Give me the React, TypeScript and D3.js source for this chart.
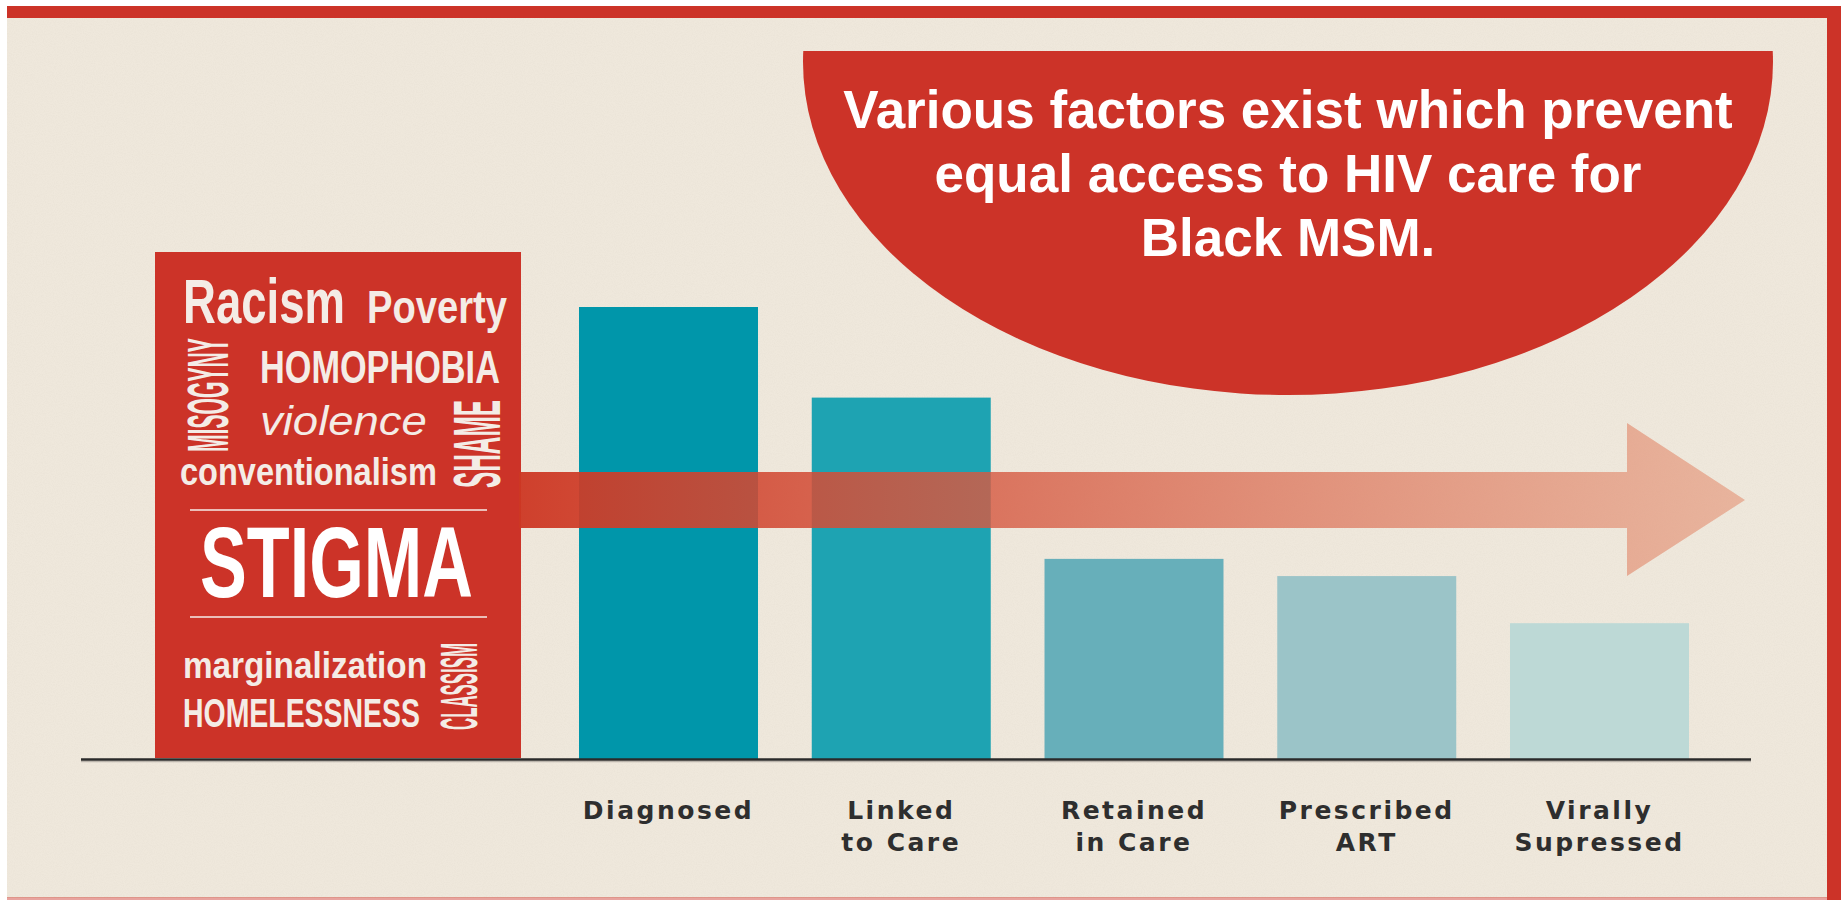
import React, { useLayoutEffect, useRef, useState } from "react";
import * as d3 from "d3";

// ---- data ----
const categories = ["Diagnosed", "Linked to Care", "Retained in Care", "Prescribed ART", "Virally Supressed"];
const categoryLines = [["Diagnosed"], ["Linked", "to Care"], ["Retained", "in Care"], ["Prescribed", "ART"], ["Virally", "Supressed"]];
const values = [100, 80, 44.4, 40.6, 30.2];
const barColors = ["#0096aa", "#1ea3b2", "#67afba", "#9bc4c8", "#bdd9d6"];
const titleLines = ["Various factors exist which prevent", "equal access to HIV care for", "Black MSM."];
const barrierWords = [
  "Racism", "Poverty", "MISOGYNY", "HOMOPHOBIA", "violence", "conventionalism", "SHAME",
  "STIGMA", "marginalization", "HOMELESSNESS", "CLASSISM",
];

// ---- layout (decorative) ----
const W = 1841, H = 900;
const RED = "#cc3328";
const WORD_FILL = "#f4ece6";
const wordLayout: Record<string, any> = {
  Racism: { x: 183, y: 323, size: 63, len: 162, weight: 700 },
  Poverty: { x: 367, y: 323, size: 46, len: 140, weight: 700 },
  MISOGYNY: { x: 228, y: 452, size: 57, len: 114, weight: 700, rot: true },
  HOMOPHOBIA: { x: 260, y: 383, size: 46, len: 240, weight: 700 },
  violence: { x: 260, y: 435, size: 40, len: 167, weight: 400, italic: true },
  conventionalism: { x: 180, y: 485, size: 39, len: 257, weight: 700 },
  SHAME: { x: 500, y: 488, size: 66, len: 88, weight: 700, rot: true },
  STIGMA: { x: 200, y: 597, size: 100, len: 273, weight: 700, fill: "#ffffff" },
  marginalization: { x: 183, y: 678, size: 36, len: 244, weight: 700 },
  HOMELESSNESS: { x: 183, y: 727, size: 40, len: 237, weight: 700 },
  CLASSISM: { x: 477, y: 730, size: 52, len: 87, weight: 700, rot: true },
};

export default function App() {
  const baseY = 760;
  const x = d3.scaleBand<string>().domain(categories).range([579, 1689]).paddingInner(0.231).paddingOuter(0);
  const y = d3.scaleLinear().domain([0, 100]).range([baseY, 307]);

  const wordRefs = useRef<Record<string, SVGTextElement | null>>({});
  const [scales, setScales] = useState<Record<string, number>>({});
  useLayoutEffect(() => {
    const s: Record<string, number> = {};
    barrierWords.forEach((w) => {
      const el = wordRefs.current[w];
      const natural = el ? el.getComputedTextLength() : 0;
      s[w] = natural > 0 ? wordLayout[w].len / natural : 1;
    });
    setScales(s);
  }, []);

  const arrowPath = d3.path();
  arrowPath.moveTo(519, 472);
  arrowPath.lineTo(1627, 472);
  arrowPath.lineTo(1627, 423);
  arrowPath.lineTo(1745, 500);
  arrowPath.lineTo(1627, 576);
  arrowPath.lineTo(1627, 528);
  arrowPath.lineTo(519, 528);
  arrowPath.closePath();

  return (
    <svg width={W} height={H} style={{ position: "absolute", left: 0, top: 0 }} fontFamily="'Liberation Sans', Arial, sans-serif">
      <defs>
        <linearGradient id="arrowGrad" gradientUnits="userSpaceOnUse" x1={519} y1={0} x2={1745} y2={0}>
          <stop offset="0" stopColor="rgb(205,55,35)" stopOpacity={0.95} />
          <stop offset="1" stopColor="rgb(228,146,116)" stopOpacity={0.6} />
        </linearGradient>
        <clipPath id="ellClip">
          <rect x={700} y={51} width={1200} height={400} />
        </clipPath>
        <filter id="paper" x="0" y="0" width="100%" height="100%">
          <feTurbulence type="fractalNoise" baseFrequency="0.9" numOctaves={2} seed={3} result="n" />
          <feColorMatrix type="matrix" values="0 0 0 0 0.55  0 0 0 0 0.5  0 0 0 0 0.42  0 0 0 -1.4 0.9" />
        </filter>
      </defs>

      {/* page & frame */}
      <rect x={0} y={0} width={W} height={H} fill="#ffffff" />
      <rect x={7} y={18} width={1820} height={880} fill="#efe8dc" />
      <rect x={7} y={18} width={1820} height={880} filter="url(#paper)" opacity={0.12} />
      <rect x={7} y={6} width={W - 7} height={12} fill={RED} />
      <rect x={1827} y={6} width={14} height={H - 6} fill={RED} />
      <rect x={7} y={897} width={1820} height={3} fill={RED} opacity={0.45} />

      {/* title half-ellipse */}
      <ellipse cx={1288} cy={62} rx={485} ry={333} fill={RED} clipPath="url(#ellClip)" />
      {titleLines.map((t, i) => (
        <text key={t} x={1288} y={128 + i * 64} textAnchor="middle" fontSize={53} fontWeight={700} fill="#ffffff">
          {t}
        </text>
      ))}

      {/* bars */}
      {categories.map((c, i) => (
        <rect key={c} x={x(c)} y={y(values[i])} width={x.bandwidth()} height={baseY - y(values[i])} fill={barColors[i]} />
      ))}

      {/* stigma box */}
      <rect x={155} y={252} width={366} height={506} fill={RED} />
      <line x1={190} x2={487} y1={510} y2={510} stroke="#f6eee8" strokeWidth={1.6} />
      <line x1={190} x2={487} y1={617} y2={617} stroke="#f6eee8" strokeWidth={1.6} />
      {barrierWords.map((w) => {
        const L = wordLayout[w];
        const sx = scales[w] ?? 1;
        const tf = L.rot
          ? `translate(${L.x},${L.y}) rotate(-90) scale(${sx},1)`
          : `translate(${L.x},${L.y}) scale(${sx},1)`;
        return (
          <text
            key={w}
            ref={(el) => {
              wordRefs.current[w] = el;
            }}
            transform={tf}
            x={0}
            y={0}
            fontSize={L.size}
            fontWeight={L.weight}
            fontStyle={L.italic ? "italic" : "normal"}
            fill={L.fill || WORD_FILL}
          >
            {w}
          </text>
        );
      })}

      {/* arrow */}
      <path d={arrowPath.toString()} fill="url(#arrowGrad)" />

      {/* axis */}
      <line x1={81} x2={1751} y1={761.5} y2={761.5} stroke="#9a958e" strokeWidth={1.5} opacity={0.6} />
      <line x1={81} x2={1751} y1={759.5} y2={759.5} stroke="#2a2a2a" strokeWidth={2.5} />

      {/* category labels */}
      {categories.map((c, i) => (
        <text
          key={c}
          x={(x(c) as number) + x.bandwidth() / 2}
          y={819}
          textAnchor="middle"
          fontFamily="'DejaVu Sans', sans-serif"
          fontWeight={700}
          fontSize={25}
          letterSpacing={2.5}
          fill="#2e2e2e"
        >
          {categoryLines[i].map((ln, j) => (
            <tspan key={ln} x={(x(c) as number) + x.bandwidth() / 2} dy={j === 0 ? 0 : 32}>
              {ln}
            </tspan>
          ))}
        </text>
      ))}
    </svg>
  );
}
